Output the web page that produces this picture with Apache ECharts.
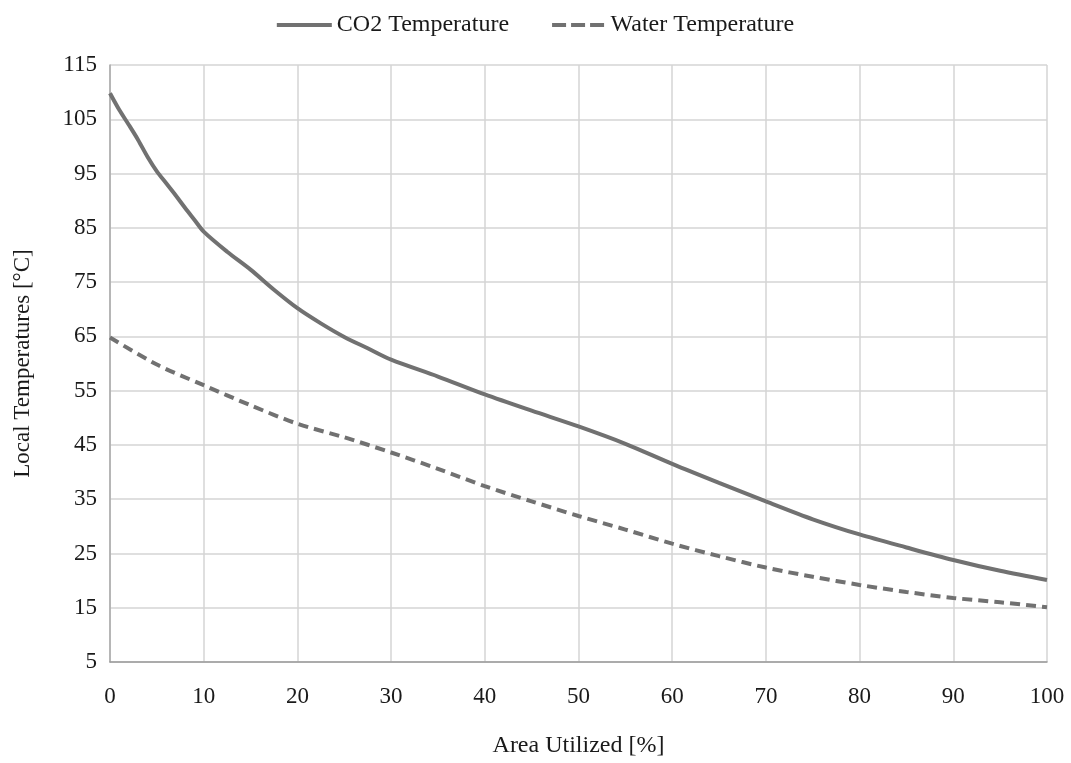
<!DOCTYPE html>
<html>
<head>
<meta charset="utf-8">
<title>Local Temperatures vs Area Utilized</title>
<script src="https://cdn.jsdelivr.net/npm/echarts@6/dist/echarts.min.js"></script>
<style>
  html, body { margin: 0; padding: 0; background: #ffffff; }
  #chart { width: 1071px; height: 763px; }
</style>
</head>
<body>
<div id="chart"></div>
<script>
// Area utilized [%] sample positions
const areaPct = [0, 1, 2, 3, 4, 5, 6, 7, 8, 9, 10, 12.5, 15, 17.5, 20, 22.5, 25, 27.5, 30, 35, 40, 45, 50, 55, 60, 65, 70, 75, 80, 85, 90, 95, 100];
// CO2 temperature [°C] at each position
const co2Temp = [109.8, 106.7, 104.0, 101.2, 98.1, 95.4, 93.2, 91.0, 88.7, 86.5, 84.3, 80.6, 77.3, 73.6, 70.2, 67.4, 64.9, 62.8, 60.7, 57.6, 54.3, 51.3, 48.4, 45.2, 41.5, 38.0, 34.6, 31.3, 28.5, 26.1, 23.8, 21.8, 20.1];

// Water temperature [°C]
const waterPct = [0, 5, 10, 15, 20, 25, 30, 35, 40, 45, 50, 55, 60, 65, 70, 75, 80, 85, 90, 95, 100];
const waterTemp = [64.8, 59.8, 56.0, 52.3, 48.9, 46.4, 43.6, 40.6, 37.4, 34.6, 31.9, 29.4, 26.8, 24.5, 22.4, 20.7, 19.2, 17.9, 16.8, 16.0, 15.1];

const seriesNames = ['CO2 Temperature', 'Water Temperature'];
const xTicks = { min: 0, max: 100, step: 10 };
const yTicks = { min: 5, max: 115, step: 10 };

const pairs = (xs, ys) => xs.map((x, i) => [x, ys[i]]);

const FONT = '"Liberation Serif", "Times New Roman", serif';
const LINE_COLOR = '#717171';

// legend keys: a solid bar and a three-dash bar
const SOLID_ICON = 'path://M0,0h55v4h-55z';
const DASH_ICON = 'path://M0,0h14v4h-14z M19,0h14v4h-14z M38,0h14v4h-14z';

const chart = echarts.init(document.getElementById('chart'), null, { renderer: 'canvas' });

chart.setOption({
  animation: false,
  backgroundColor: '#ffffff',
  textStyle: { fontFamily: FONT, color: '#1a1a1a' },
  legend: {
    top: 8,
    left: 'center',
    itemWidth: 55,
    itemHeight: 4,
    itemGap: 43,
    textStyle: { fontFamily: FONT, fontSize: 24, color: '#1a1a1a' },
    data: [
      { name: seriesNames[0], icon: SOLID_ICON, itemStyle: { color: LINE_COLOR } },
      { name: seriesNames[1], icon: DASH_ICON, itemStyle: { color: LINE_COLOR } }
    ]
  },
  grid: { left: 110, right: 24, top: 65, bottom: 100, containLabel: false },
  xAxis: {
    type: 'value',
    min: xTicks.min,
    max: xTicks.max,
    interval: xTicks.step,
    name: 'Area Utilized [%]',
    nameLocation: 'middle',
    nameGap: 72,
    nameTextStyle: { fontFamily: FONT, fontSize: 24, color: '#1a1a1a' },
    axisLine: { show: true, lineStyle: { color: '#9a9a9a', width: 1.5 } },
    axisTick: { show: false },
    axisLabel: { fontFamily: FONT, fontSize: 23, color: '#1a1a1a', margin: 23 },
    splitLine: { show: true, lineStyle: { color: '#d4d4d4', width: 1.5 } }
  },
  yAxis: {
    type: 'value',
    min: yTicks.min,
    max: yTicks.max,
    interval: yTicks.step,
    name: 'Local Temperatures [°C]',
    nameLocation: 'middle',
    nameGap: 76,
    nameRotate: 90,
    nameTextStyle: { fontFamily: FONT, fontSize: 23, color: '#1a1a1a' },
    axisLine: { show: true, lineStyle: { color: '#a8a8a8', width: 1.5 } },
    axisTick: { show: false },
    axisLabel: { fontFamily: FONT, fontSize: 23, color: '#1a1a1a', margin: 13 },
    splitLine: { show: true, lineStyle: { color: '#d4d4d4', width: 1.5 } }
  },
  series: [
    {
      name: seriesNames[0],
      type: 'line',
      data: pairs(areaPct, co2Temp),
      smooth: 0.3,
      symbol: 'none',
      lineStyle: { color: LINE_COLOR, width: 4 },
      itemStyle: { color: LINE_COLOR }
    },
    {
      name: seriesNames[1],
      type: 'line',
      data: pairs(waterPct, waterTemp),
      smooth: 0.3,
      symbol: 'none',
      lineStyle: { color: LINE_COLOR, width: 4, type: [10, 6] },
      itemStyle: { color: LINE_COLOR }
    }
  ]
});
</script>
</body>
</html>
